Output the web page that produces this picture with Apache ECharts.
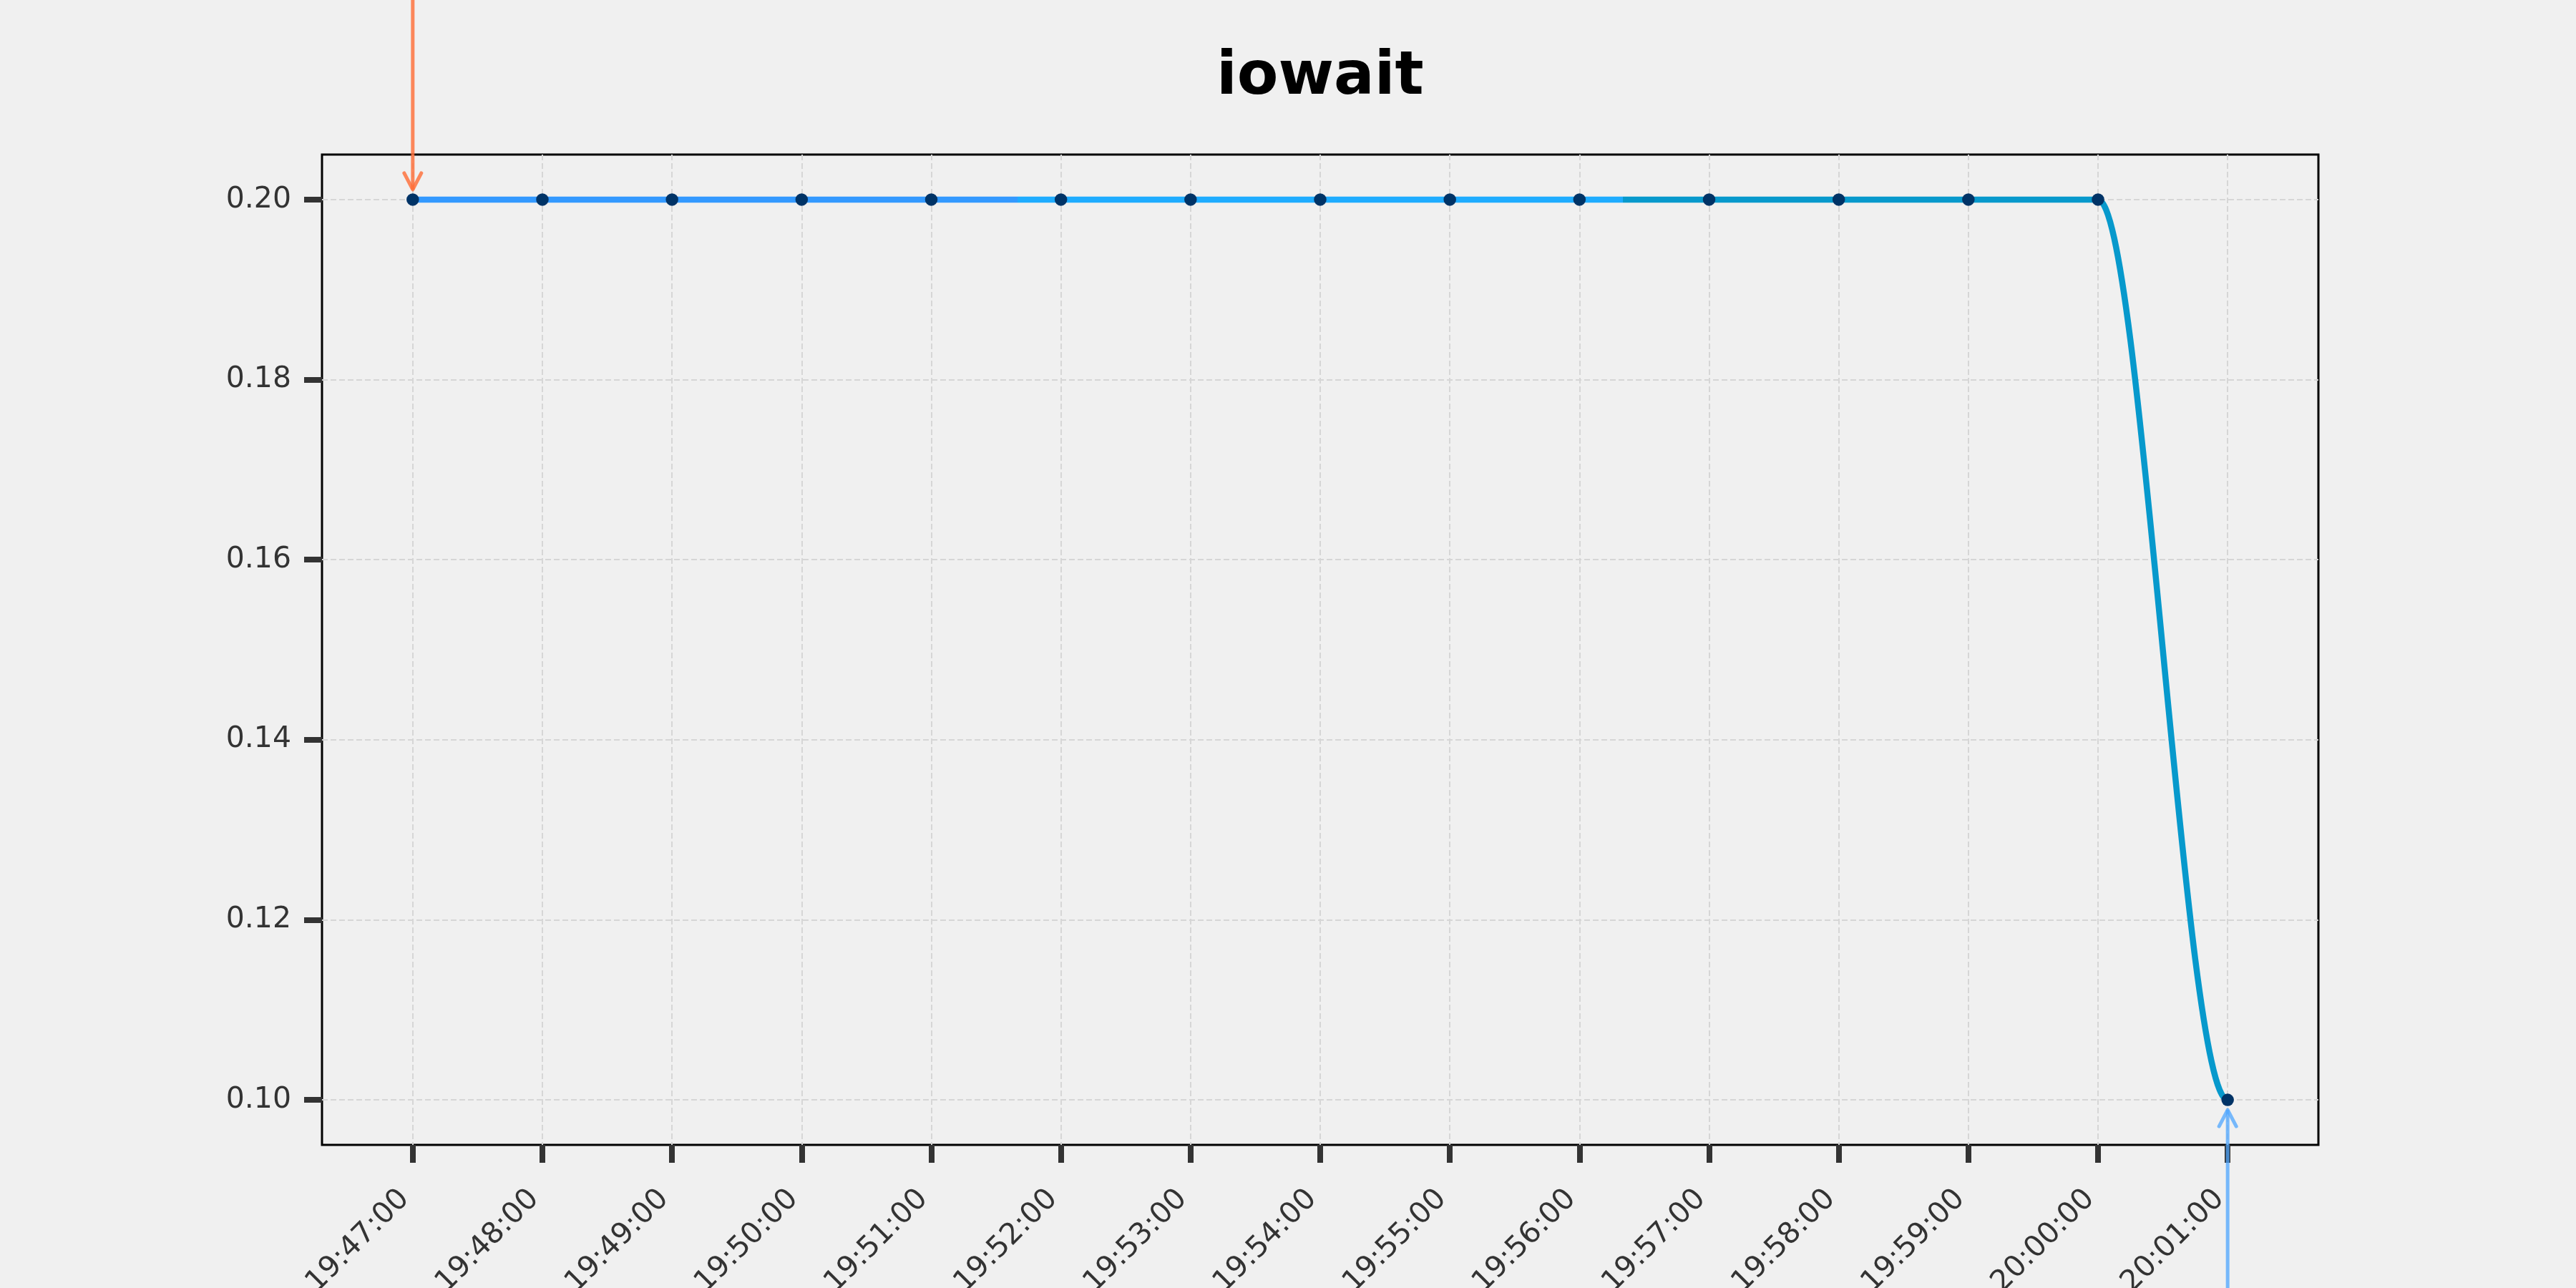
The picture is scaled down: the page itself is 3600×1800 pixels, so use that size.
<!DOCTYPE html>
<html>
<head>
<meta charset="utf-8">
<script src="https://cdn.jsdelivr.net/npm/echarts@6/dist/echarts.min.js"></script>
<style>
  html, body { margin: 0; padding: 0; background: #f0f0f0; }
  #chart { width: 3600px; height: 1800px; }
</style>
</head>
<body>
<div id="chart"></div>
<script>
// ---- data ----
const chartTitle = 'iowait';
const times = ['19:47:00', '19:48:00', '19:49:00', '19:50:00', '19:51:00', '19:52:00', '19:53:00',
               '19:54:00', '19:55:00', '19:56:00', '19:57:00', '19:58:00', '19:59:00', '20:00:00', '20:01:00'];
const iowait = [0.20, 0.20, 0.20, 0.20, 0.20, 0.20, 0.20, 0.20, 0.20, 0.20, 0.20, 0.20, 0.20, 0.20, 0.10];
const yTicks = [0.10, 0.12, 0.14, 0.16, 0.18, 0.20];
const maxPoint = ['19:47:00', 0.20];   // annotated maximum (arrow from above)
const minPoint = ['20:01:00', 0.10];   // annotated minimum (arrow from below)

// ---- helpers ----
function toSec(t) { const p = t.split(':').map(Number); return p[0] * 3600 + p[1] * 60 + p[2]; }
const t0 = toSec(times[0]);
function toMin(t) { return (toSec(t) - t0) / 60; }
const xVals = times.map(toMin);
const points = xVals.map((x, i) => [x, iowait[i]]);

const xSpan = xVals[xVals.length - 1] - xVals[0];
const xMin = xVals[0] - 0.05 * xSpan, xMax = xVals[xVals.length - 1] + 0.05 * xSpan;
const yLo = Math.min(...iowait), yHi = Math.max(...iowait);
const yMin = yLo - 0.05 * (yHi - yLo), yMax = yHi + 0.05 * (yHi - yLo);

const FONT = 'DejaVu Sans';
const segColors = ['#3399ff', '#1eacff', '#0799cc'];

const chart = echarts.init(document.getElementById('chart'), null, { renderer: 'canvas' });

const option = {
  animation: false,
  backgroundColor: '#f0f0f0',
  title: {
    text: chartTitle,
    left: 1700,
    top: 67,
    padding: 0,
    textStyle: { fontFamily: FONT, fontSize: 84, fontWeight: 'bold', color: '#000' }
  },
  grid: {
    left: 450, right: 360, top: 216, bottom: 200,
    show: true, backgroundColor: '#f0f0f0', borderColor: '#000', borderWidth: 3,
    containLabel: false, outerBoundsMode: 'none'
  },
  xAxis: {
    type: 'value', min: xMin, max: xMax,
    axisLine: { show: false, onZero: false },
    axisTick: { show: true, length: 25, customValues: xVals, lineStyle: { color: '#333', width: 8 } },
    axisLabel: {
      customValues: xVals, rotate: 45, margin: 58, padding: [0, 16, 0, 0],
      fontFamily: FONT, fontSize: 41, color: '#333',
      formatter: v => { const i = xVals.findIndex(x => Math.abs(x - v) < 1e-6); return i >= 0 ? times[i] : ''; }
    },
    splitLine: { show: true, lineStyle: { color: '#d6d6d6', width: 2, type: [8, 4] } }
  },
  yAxis: {
    type: 'value', min: yMin, max: yMax,
    axisLine: { show: false, onZero: false },
    axisTick: { show: true, length: 25, customValues: yTicks, lineStyle: { color: '#333', width: 8 } },
    axisLabel: {
      customValues: yTicks, margin: 43,
      fontFamily: FONT, fontSize: 41, color: '#333',
      formatter: v => v.toFixed(2)
    },
    splitLine: { show: true, lineStyle: { color: '#d6d6d6', width: 2, type: [8, 4] } }
  },
  series: [
    {
      name: 'curve', type: 'custom', z: 2, data: points,
      renderItem: function (params, api) {
        const i = params.dataIndexInside, n = params.dataInsideLength;
        if (i >= n - 1) return null;
        const p1 = api.coord([api.value(0, i), api.value(1, i)]);
        const p2 = api.coord([api.value(0, i + 1), api.value(1, i + 1)]);
        const pFirst = api.coord([api.value(0, 0), api.value(1, 0)]);
        const pLast = api.coord([api.value(0, n - 1), api.value(1, n - 1)]);
        const dx = (p2[0] - p1[0]) / 3;
        const grad = new echarts.graphic.LinearGradient(pFirst[0], 0, pLast[0], 0, [
          { offset: 0, color: segColors[0] }, { offset: 1 / 3, color: segColors[0] },
          { offset: 1 / 3, color: segColors[1] }, { offset: 2 / 3, color: segColors[1] },
          { offset: 2 / 3, color: segColors[2] }, { offset: 1, color: segColors[2] }
        ], true);
        return {
          type: 'bezierCurve',
          shape: { x1: p1[0], y1: p1[1], x2: p2[0], y2: p2[1],
                   cpx1: p1[0] + dx, cpy1: p1[1], cpx2: p2[0] - dx, cpy2: p2[1] },
          style: { stroke: grad, lineWidth: 8.5, fill: null, lineCap: 'butt' }
        };
      }
    },
    {
      name: 'points', type: 'scatter', z: 3, data: points,
      symbol: 'circle', symbolSize: 17.5,
      itemStyle: { color: '#003366', opacity: 1 }
    },
    {
      name: 'annotations', type: 'custom', z: 5, clip: false,
      data: [[toMin(maxPoint[0]), maxPoint[1], 0], [toMin(minPoint[0]), minPoint[1], 1]],
      renderItem: function (params, api) {
        const p = api.coord([api.value(0), api.value(1)]);
        const below = api.value(2) === 1;
        const color = below ? 'rgba(77,166,255,0.75)' : 'rgba(255,107,53,0.8)';
        const gap = 14, hw = 12, hl = 23;
        const tipY = below ? p[1] + gap : p[1] - gap;
        const endY = below ? api.getHeight() : 0;
        const back = below ? tipY + hl : tipY - hl;
        return {
          type: 'group',
          children: [
            { type: 'line', shape: { x1: p[0], y1: endY, x2: p[0], y2: tipY },
              style: { stroke: color, lineWidth: 5 } },
            { type: 'polyline', shape: { points: [[p[0] - hw, back], [p[0], tipY], [p[0] + hw, back]] },
              style: { stroke: color, lineWidth: 5, fill: null, lineJoin: 'round', lineCap: 'round' } }
          ]
        };
      }
    }
  ]
};
chart.setOption(option);
</script>
</body>
</html>
